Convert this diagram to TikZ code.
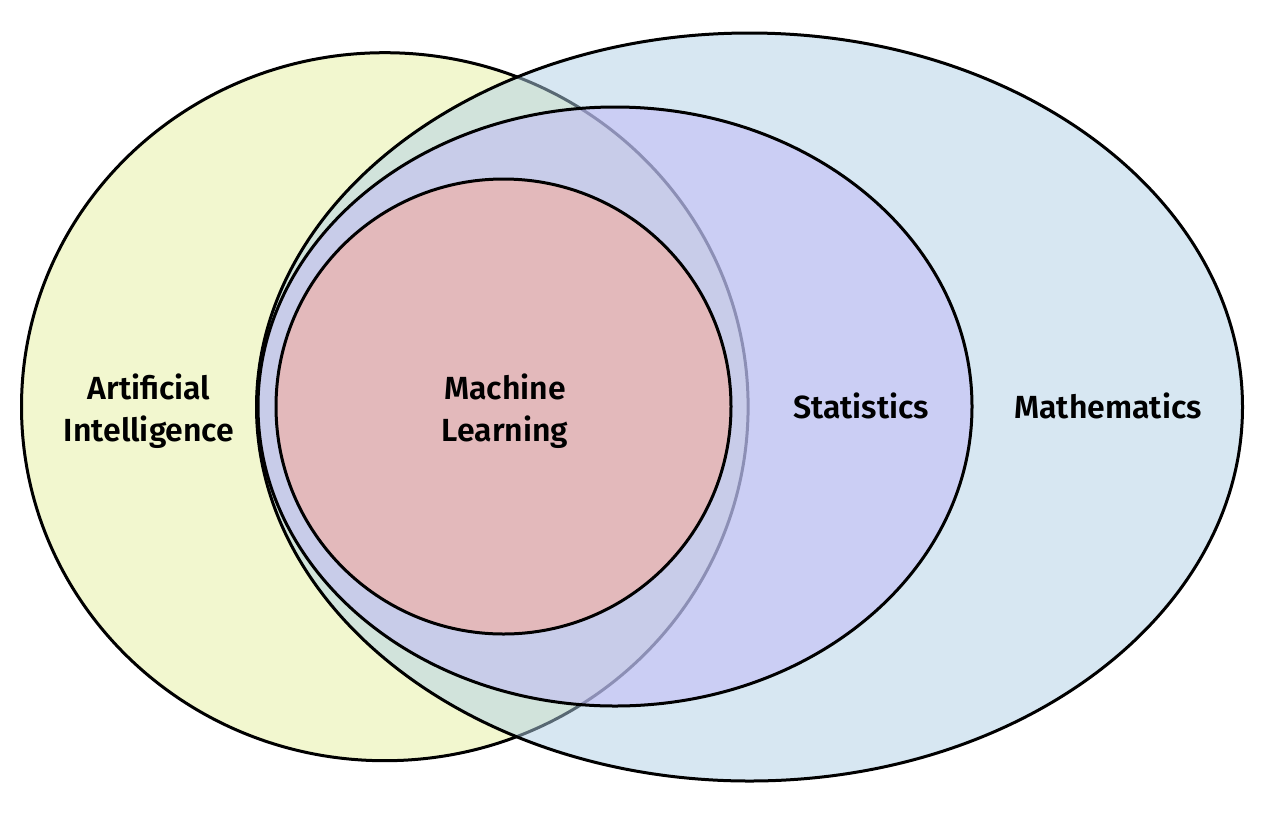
\documentclass[tikz,border=0pt]{standalone}
\usepackage{fontspec}
\setmainfont{Fira Sans SemiBold}
\definecolor{aifill}{RGB}{242,247,207}
\definecolor{mathfill}{RGB}{177,209,231}
\definecolor{statfill}{RGB}{192,182,247}
\definecolor{mlfill}{RGB}{227,185,187}
\begin{document}
\begin{tikzpicture}[x=1pt,y=-1pt,
  setline/.style={draw=black,line width=3pt},
  label/.style={font=\fontsize{32}{42}\selectfont,align=center,text=black,inner sep=0pt}]
\useasboundingbox[fill=white] (0,0) rectangle (1271,815);
% Artificial Intelligence
\path[setline,fill=aifill] (384.8,406.7) ellipse [x radius=363.3pt, y radius=354pt];
% Mathematics
\path[setline,fill=mathfill,fill opacity=0.5] (749.5,407) ellipse [x radius=493pt, y radius=374pt];
% Statistics
\path[setline,fill=statfill,fill opacity=0.5] (615,406.5) ellipse [x radius=357pt, y radius=299.5pt];
% Machine Learning
\path[setline,fill=mlfill] (503.5,406.5) ellipse [x radius=227.5pt, y radius=227.5pt];
\node[label] (ai) at (149,411) {Artificial\\Intelligence};
\node[label] (ml) at (505,411) {Machine\\Learning};
\node[label,anchor=base] (stat) at (861,418) {Statistics};
\node[label,anchor=base] (math) at (1108,418) {Mathematics};
\end{tikzpicture}
\end{document}
